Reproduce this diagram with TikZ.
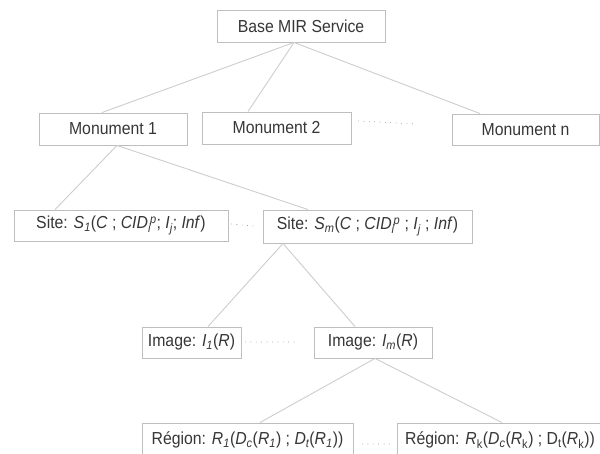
\documentclass[tikz,border=0pt]{standalone}
\usepackage{fontspec}
\usepackage{graphicx}
\setmainfont{Liberation Sans}
\newcommand\isub[1]{\textsubscript{\itshape #1}}
\newcommand\rsub[1]{\textsubscript{#1}}
\newcommand\isubsup[2]{\textsubscript{\itshape #1}\kern-1pt\textsuperscript{\itshape #2}}
\newcommand\tall[1]{\scalebox{1}[1.1]{#1}}
\definecolor{boxline}{RGB}{190,190,190}
\definecolor{edgeline}{RGB}{205,205,205}
\definecolor{ink}{RGB}{55,55,55}
\tikzset{
  box/.style={draw=boxline, line width=0.9pt, fill=white, text=ink,
    inner sep=0pt, anchor=center, font=\fontsize{15.8}{18}\selectfont},
  link/.style={draw=edgeline, line width=0.9pt},
  dotrow/.style={draw=ink!60, line width=0.9pt, line cap=round,
    dash pattern=on 0pt off 5.4pt}
}
\begin{document}
\begin{tikzpicture}[x=1pt,y=-1pt]
\useasboundingbox (0,0) rectangle (600,454);
\begin{scope}
\clip (0,0) rectangle (600,454);
% tree levels
\node[box, minimum width=168pt, minimum height=32pt] (base) at (301,26) {\tall{Base MIR Service}};

\node[box, minimum width=148pt, minimum height=32pt] (mon1) at (113,129) {\tall{Monument 1}};
\node[box, minimum width=149pt, minimum height=32pt] (mon2) at (276.5,128) {\tall{Monument 2}};
\node[box, minimum width=147pt, minimum height=31pt] (monn) at (525.5,129.5) {\tall{Monument n}};

\node[box, minimum width=214pt, minimum height=31pt] (site1) at (121,225.5)
  {\tall{Site: \textit{S}\isub{1}(\textit{C} ; \textit{CID}\isubsup{i}{p}; \textit{I}\isub{j}; \textit{Inf})}};
\node[box, minimum width=209pt, minimum height=33pt] (sitem) at (367.5,226.5)
  {\tall{Site: \textit{S}\isub{m}(\textit{C} ; \textit{CID}\isubsup{i}{p} ; \textit{I}\isub{j} ; \textit{Inf})}};

\node[box, minimum width=99pt, minimum height=31pt] (img1) at (191.5,342.5)
  {\tall{Image: \textit{I}\isub{1}(\textit{R})}};
\node[box, minimum width=118pt, minimum height=31pt] (imgm) at (373,342.5)
  {\tall{Image: \textit{I}\isub{m}(\textit{R})}};

\node[box, minimum width=211pt, minimum height=34pt, text depth=0pt] (reg1) at (247.5,440)
  {\raisebox{3pt}{\tall{Région: \textit{R}\isub{1}(\textit{D}\isub{c}(\textit{R}\isub{1}) ; \textit{D}\isub{t}(\textit{R}\isub{1}))}}};
\node[box, minimum width=206pt, minimum height=34pt, text depth=0pt] (regk) at (500,440)
  {\raisebox{3pt}{\tall{Région: \textit{R}\rsub{k}(\textit{D}\isub{c}(\textit{R}\rsub{k}) ; D\rsub{t}(\textit{R}\rsub{k}))}}};

% connectors
\draw[link] ([xshift=-7pt]base.south) -- ([xshift=-11pt]mon1.north);
\draw[link] ([xshift=-7pt]base.south) -- ([xshift=-28.5pt]mon2.north);
\draw[link] ([xshift=-7pt]base.south) -- ([xshift=-45.5pt]monn.north);

\draw[link] ([xshift=4pt]mon1.south) -- ([xshift=-66pt]site1.north);
\draw[link] ([xshift=4pt]mon1.south) -- ([xshift=-59.5pt]sitem.north);

\draw[link] ([xshift=-84.5pt]sitem.south) -- ([xshift=16.5pt]img1.north);
\draw[link] ([xshift=-84.5pt]sitem.south) -- ([xshift=-18pt]imgm.north);

\draw[link] ([xshift=2pt]imgm.south) -- ([xshift=12.5pt]reg1.north);
\draw[link] ([xshift=2pt]imgm.south) -- ([xshift=2pt]regk.north);

% rows of dots between siblings
\draw[dotrow] ([xshift=7pt,yshift=7pt]mon2.east) -- ([xshift=-34pt,yshift=5.5pt]monn.west);
\draw[dotrow] ([xshift=3pt,yshift=1.5pt]site1.east) -- ([xshift=-9pt,yshift=0.5pt]sitem.west);
\draw[dotrow] ([xshift=4pt,yshift=0.5pt]img1.east) -- ([xshift=-18pt,yshift=0.5pt]imgm.west);
\draw[dotrow] ([xshift=9pt,yshift=-4pt]reg1.east) -- ([xshift=-4pt,yshift=-4pt]regk.west);
\end{scope}
\end{tikzpicture}
\end{document}
